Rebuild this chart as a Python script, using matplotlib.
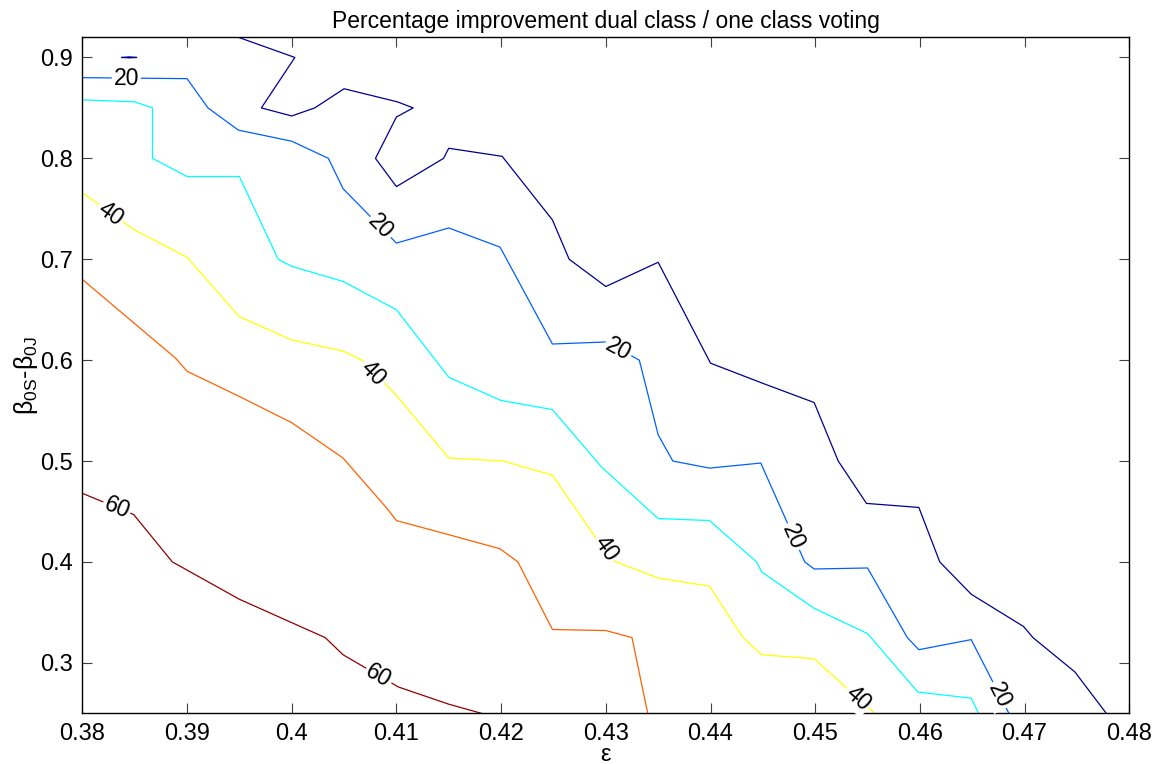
import numpy as np
import matplotlib.pyplot as plt

plt.rcParams['font.family'] = ['Liberation Sans', 'DejaVu Sans']
plt.rcParams['mathtext.default'] = 'regular'

# contour levels and their line colours (jet)
levels = [10, 20, 30, 40, 50, 60]
level_colors = ['#00008f', '#0060ff', '#00ffff', '#ffff00', '#ff6000', '#8f0000']

# contour polylines (epsilon, beta0S - beta0J)
c10_x = [0.3949, 0.4003, 0.3971, 0.4000, 0.4022, 0.4050, 0.4101, 0.4116, 0.4100, 0.4080,
         0.4100, 0.4145, 0.4150, 0.4201, 0.4249, 0.4265, 0.4300, 0.4350, 0.4400, 0.4450,
         0.4499, 0.4522, 0.4549, 0.4599, 0.4619, 0.4649, 0.4699, 0.4708, 0.4748, 0.4778]
c10_y = [0.920, 0.900, 0.850, 0.842, 0.850, 0.869, 0.856, 0.850, 0.841, 0.800,
         0.772, 0.800, 0.810, 0.802, 0.739, 0.700, 0.673, 0.697, 0.597, 0.577,
         0.558, 0.500, 0.458, 0.454, 0.400, 0.368, 0.336, 0.325, 0.291, 0.250]
c10b_x = [0.3838, 0.3845, 0.3852, 0.3845, 0.3838]
c10b_y = [0.9000, 0.9006, 0.9000, 0.8996, 0.9000]

c20_x = [0.3800, 0.3900, 0.3920, 0.3949, 0.4000, 0.4035, 0.4049, 0.4100, 0.4150, 0.4199,
         0.4249, 0.4300, 0.4332, 0.4350, 0.4364, 0.4399, 0.4448, 0.4490, 0.4499, 0.4550,
         0.4588, 0.4599, 0.4649, 0.4685]
c20_y = [0.880, 0.879, 0.850, 0.828, 0.817, 0.800, 0.770, 0.716, 0.731, 0.712,
         0.616, 0.618, 0.600, 0.526, 0.500, 0.493, 0.498, 0.400, 0.393, 0.394,
         0.325, 0.313, 0.323, 0.250]

c30_x = [0.3800, 0.3850, 0.3867, 0.3867, 0.3900, 0.3950, 0.3987, 0.4000, 0.4049, 0.4100,
         0.4150, 0.4200, 0.4249, 0.4296, 0.4350, 0.4399, 0.4444, 0.4449, 0.4499, 0.4550,
         0.4598, 0.4649, 0.4656]
c30_y = [0.858, 0.856, 0.850, 0.800, 0.782, 0.782, 0.700, 0.693, 0.678, 0.650,
         0.583, 0.560, 0.551, 0.494, 0.443, 0.441, 0.400, 0.390, 0.354, 0.329,
         0.271, 0.265, 0.250]

c40_x = [0.3800, 0.3850, 0.3900, 0.3950, 0.4000, 0.4049, 0.4067, 0.4100, 0.4150, 0.4202,
         0.4249, 0.4305, 0.4350, 0.4399, 0.4431, 0.4449, 0.4499, 0.4557]
c40_y = [0.766, 0.729, 0.702, 0.643, 0.620, 0.609, 0.600, 0.565, 0.503, 0.500,
         0.486, 0.402, 0.384, 0.376, 0.325, 0.308, 0.304, 0.250]

c50_x = [0.3800, 0.3889, 0.3900, 0.3950, 0.4000, 0.4049, 0.4091, 0.4100, 0.4150, 0.4199,
         0.4216, 0.4249, 0.4300, 0.4325, 0.4340]
c50_y = [0.680, 0.602, 0.589, 0.564, 0.538, 0.503, 0.453, 0.441, 0.427, 0.413,
         0.400, 0.333, 0.332, 0.325, 0.250]

c60_x = [0.3800, 0.3849, 0.3886, 0.3950, 0.4032, 0.4049, 0.4102, 0.4150, 0.4181]
c60_y = [0.468, 0.447, 0.400, 0.363, 0.325, 0.308, 0.276, 0.259, 0.250]

contours = [
    (10, c10_x, c10_y),
    (10, c10b_x, c10b_y),
    (20, c20_x, c20_y),
    (30, c30_x, c30_y),
    (40, c40_x, c40_y),
    (50, c50_x, c50_y),
    (60, c60_x, c60_y),
]

# inline labels: level, epsilon, beta
label_level = [20, 20, 20, 20, 20, 40, 40, 40, 40, 60, 60]
label_x = [0.3842, 0.4085, 0.4312, 0.4479, 0.4676, 0.3827, 0.4078, 0.4300, 0.4541, 0.3833, 0.4083]
label_y = [0.879, 0.732, 0.611, 0.425, 0.268, 0.745, 0.587, 0.413, 0.265, 0.454, 0.287]

x_ticks = [0.38, 0.39, 0.40, 0.41, 0.42, 0.43, 0.44, 0.45, 0.46, 0.47, 0.48]
x_ticklabels = ['0.38', '0.39', '0.4', '0.41', '0.42', '0.43', '0.44', '0.45', '0.46', '0.47', '0.48']
y_ticks = [0.3, 0.4, 0.5, 0.6, 0.7, 0.8, 0.9]
y_ticklabels = ['0.3', '0.4', '0.5', '0.6', '0.7', '0.8', '0.9']

fig = plt.figure(figsize=(11.58, 7.64), dpi=100)
ax = fig.add_axes([0.0711, 0.0664, 0.9041, 0.8848])

color_of = dict(zip(levels, level_colors))
for lev, xs, ys in contours:
    ax.plot(xs, ys, color=color_of[lev], lw=0.9, zorder=2)

ax.set_xlim(0.38, 0.48)
ax.set_ylim(0.25, 0.92)
ax.set_xticks(x_ticks)
ax.set_xticklabels(x_ticklabels)
ax.set_yticks(y_ticks)
ax.set_yticklabels(y_ticklabels)
ax.tick_params(direction='in', length=7.5, width=0.8, top=True, right=True,
               labelsize=17, pad=7, color='#404040')
for sp in ax.spines.values():
    sp.set_linewidth(1.0)

ax.set_title('Percentage improvement dual class / one class voting', fontsize=16.5, pad=7)
ax.set_xlabel('ε', fontsize=17, labelpad=-1)
ax.set_ylabel('β$_{0S}$-β$_{0J}$', fontsize=18, labelpad=0)

# place each label along its contour, rotated to follow the line
fig.canvas.draw()
line_of = {lev: (np.array(xs), np.array(ys)) for lev, xs, ys in contours}
for lev, lx, ly in zip(label_level, label_x, label_y):
    xs, ys = line_of[lev]
    pts = ax.transData.transform(np.column_stack([xs, ys]))
    p = ax.transData.transform((lx, ly))
    best, ang = None, 0.0
    for i in range(len(pts) - 1):
        a, b = pts[i], pts[i + 1]
        d = b - a
        t = np.clip(np.dot(p - a, d) / max(np.dot(d, d), 1e-9), 0, 1)
        dist = np.linalg.norm(a + t * d - p)
        if best is None or dist < best:
            best = dist
            ang = np.degrees(np.arctan2(d[1], d[0]))
    if ang > 90:
        ang -= 180
    if ang < -90:
        ang += 180
    ax.text(lx, ly, str(lev), fontsize=16.5, rotation=ang, rotation_mode='anchor',
            ha='center', va='center', zorder=3,
            bbox=dict(boxstyle='square,pad=0.08', fc='white', ec='none'))

fig.savefig('out.png', dpi=100)
